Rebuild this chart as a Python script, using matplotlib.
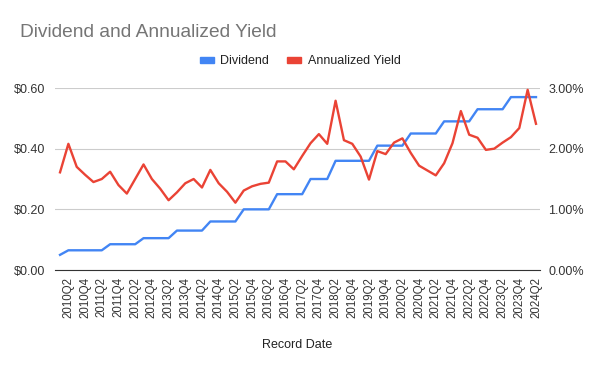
import matplotlib.pyplot as plt
from matplotlib.patches import Patch
from matplotlib.ticker import FuncFormatter

plt.rcParams['font.family'] = ['Liberation Sans', 'DejaVu Sans']

# quarters 2010Q1 .. 2024Q2
quarters = [f"{y}Q{q}" for y in range(2010, 2025) for q in range(1, 5)][:58]

dividend = [0.05, 0.065, 0.065, 0.065, 0.065, 0.065,
            0.085, 0.085, 0.085, 0.085,
            0.105, 0.105, 0.105, 0.105,
            0.13, 0.13, 0.13, 0.13,
            0.16, 0.16, 0.16, 0.16,
            0.20, 0.20, 0.20, 0.20,
            0.25, 0.25, 0.25, 0.25,
            0.30, 0.30, 0.30,
            0.36, 0.36, 0.36, 0.36, 0.36,
            0.41, 0.41, 0.41, 0.41,
            0.45, 0.45, 0.45, 0.45,
            0.49, 0.49, 0.49, 0.49,
            0.53, 0.53, 0.53, 0.53,
            0.57, 0.57, 0.57, 0.57]

yield_pct = [1.61, 2.08, 1.70, 1.57, 1.45, 1.50, 1.62, 1.40, 1.26, 1.50,
             1.74, 1.50, 1.34, 1.15, 1.28, 1.43, 1.50, 1.36, 1.65, 1.43,
             1.29, 1.11, 1.31, 1.38, 1.42, 1.44, 1.79, 1.79, 1.66, 1.88,
             2.09, 2.24, 2.08, 2.79, 2.14, 2.08, 1.87, 1.49, 1.96, 1.91,
             2.10, 2.17, 1.93, 1.72, 1.64, 1.56, 1.76, 2.09, 2.62, 2.23,
             2.18, 1.98, 2.00, 2.10, 2.19, 2.34, 2.97, 2.41]

blue = '#4285F4'
red = '#EA4335'

fig = plt.figure(figsize=(6, 3.71), dpi=100)
ax = fig.add_axes([0.0917, 0.2722, 0.8083, 0.4906])
ax2 = ax.twinx()

x = list(range(len(quarters)))
ax.plot(x, dividend, color=blue, lw=1.7, zorder=3)
ax2.plot(x, yield_pct, color=red, lw=1.7, zorder=3)

ax.set_xlim(-0.6, 57.48)
ax.set_ylim(0, 0.6)
ax2.set_ylim(0, 3)
ax.set_yticks([0, 0.2, 0.4, 0.6])
ax2.set_yticks([0, 1, 2, 3])
ax.yaxis.set_major_formatter(FuncFormatter(lambda v, p: f"${v:.2f}"))
ax2.yaxis.set_major_formatter(FuncFormatter(lambda v, p: f"{v:.2f}%"))

ax.set_xticks(x[1::2])
ax.set_xticklabels(quarters[1::2], rotation=90, fontsize=8.3, color='#222222')

ax.grid(axis='y', color='#cccccc', lw=0.8)
ax.set_axisbelow(True)
for a in (ax, ax2):
    for s in ('top', 'right', 'left', 'bottom'):
        a.spines[s].set_visible(False)
    a.tick_params(length=0, labelsize=9, labelcolor='#333333')
ax.tick_params(axis='x', labelsize=8.3)
ax.spines['bottom'].set_visible(True)
ax.spines['bottom'].set_color('#333333')
ax.tick_params(axis='y', pad=7)
ax2.tick_params(axis='y', pad=6)
ax.tick_params(axis='x', pad=5)

fig.text(0.496, 0.07, 'Record Date', fontsize=9, color='#222222',
         ha='center', va='center')

fig.text(0.033, 0.901, 'Dividend and Annualized Yield', fontsize=13.8,
         color='#757575', va='baseline', ha='left')

handles = [Patch(color=blue, label='Dividend'),
           Patch(color=red, label='Annualized Yield')]
fig.legend(handles=handles, loc='center', bbox_to_anchor=(0.5, 0.835),
           ncol=2, frameon=False, fontsize=9, handlelength=1.17,
           handleheight=0.4, columnspacing=1.4, handletextpad=0.5,
           labelcolor='#222222')

fig.savefig('out.png', dpi=100)
